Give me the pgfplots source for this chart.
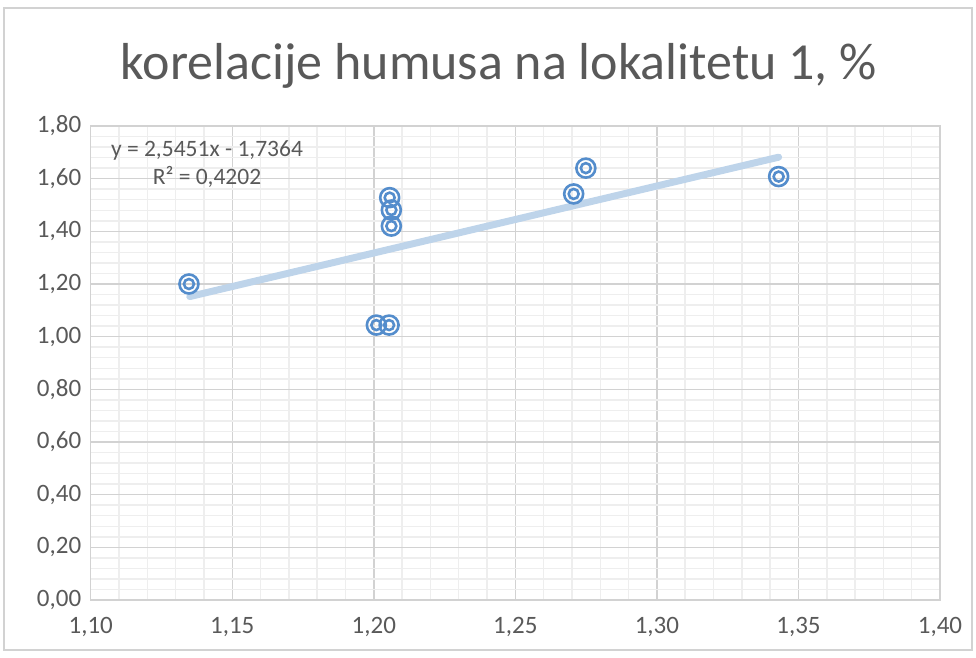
\documentclass[border=0pt]{standalone}
\usepackage{fontspec}
\setmainfont{Carlito}
\usepackage{pgfplots}
\pgfplotsset{compat=1.18}
\definecolor{gmaj}{RGB}{210,210,210}
\definecolor{gmin}{RGB}{238,238,238}
\definecolor{txt}{RGB}{89,89,89}
\definecolor{mk}{RGB}{84,141,204}
\definecolor{tr}{RGB}{190,212,234}
\begin{document}
\begin{tikzpicture}[x=1pt,y=1pt]
\useasboundingbox (0,0) rectangle (976,657);
\draw[gmaj,line width=1.2pt] (4,7) rectangle (972,649);
\node[txt,font=\fontsize{52}{56}\selectfont,anchor=base] at (499,577) {korelacije humusa na lokalitetu 1, \%};
\begin{axis}[
  at={(90.7pt,57pt)}, anchor=south west,
  scale only axis, width=849.3pt, height=474pt,
  xmin=1.10, xmax=1.40, ymin=0, ymax=1.80,
  xtick={1.10,1.15,...,1.401}, ytick={0,0.2,...,1.81},
  minor x tick num=4, minor y tick num=4,
  grid=both,
  major grid style={gmaj,line width=1.5pt},
  minor grid style={gmin,line width=1.5pt},
  axis line style={gmaj,line width=1.5pt},
  tick style={draw=none},
  ticklabel style={txt,font=\fontsize{25}{28}\selectfont},
  /pgf/number format/assume math mode=true,
  /pgf/number format/.cd, fixed, fixed zerofill, precision=2, use comma,
  /pgfplots/.cd,
  xticklabel style={yshift=-14pt},
  yticklabel style={xshift=-6pt},
  clip=false,
]
\addplot[tr,line width=7pt,line cap=round] coordinates {(1.135,1.1523) (1.343,1.6816)};
\addplot[only marks,mark=o,mark size=9.5pt,mark options={mk,line width=2.6pt}] coordinates {
(1.1347,1.200) (1.2056,1.528) (1.2062,1.481) (1.2062,1.420) (1.2009,1.044) (1.2054,1.044) (1.2706,1.542) (1.2749,1.640) (1.343,1.608)};
\addplot[only marks,mark=o,mark size=5pt,mark options={mk,line width=2.6pt}] coordinates {
(1.1347,1.200) (1.2056,1.528) (1.2062,1.481) (1.2062,1.420) (1.2009,1.044) (1.2054,1.044) (1.2706,1.542) (1.2749,1.640) (1.343,1.608)};
\end{axis}
\node[txt,font=\fontsize{23.5}{27}\selectfont,anchor=base] at (207,500) {y = 2,5451x - 1,7364};
\node[txt,font=\fontsize{23.5}{27}\selectfont,anchor=base] at (207,472) {R² = 0,4202};
\end{tikzpicture}
\end{document}
